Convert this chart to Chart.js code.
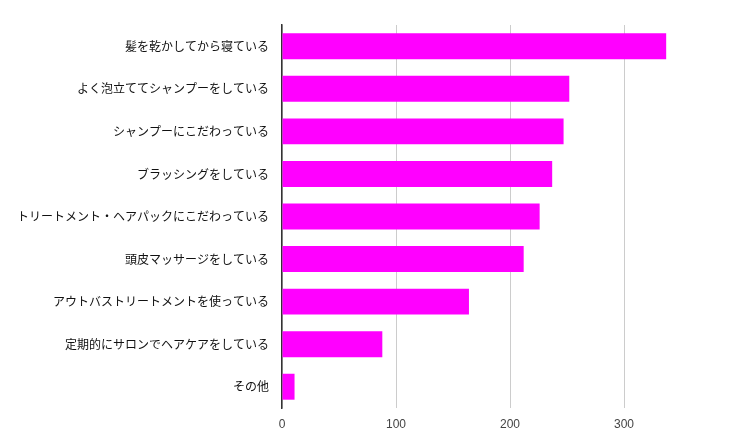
<!DOCTYPE html>
<html>
<head>
<meta charset="utf-8">
<script src="https://cdn.jsdelivr.net/npm/chart.js@4"></script>
<style>
  html, body { margin: 0; padding: 0; background: #fff; }
  #wrap { width: 738px; height: 447px; }
</style>
</head>
<body>
<div id="wrap"><canvas id="hairChart"></canvas></div>
<script>
const categories = [
    '髪を乾かしてから寝ている',
    'よく泡立ててシャンプーをしている',
    'シャンプーにこだわっている',
    'ブラッシングをしている',
    'トリートメント・ヘアパックにこだわっている',
    '頭皮マッサージをしている',
    'アウトバストリートメントを使っている',
    '定期的にサロンでヘアケアをしている',
    'その他'
];
const counts = [337, 252, 247, 237, 226, 212, 164, 88, 11];
const xTicks = [0, 100, 200, 300, 400];
const shownTicks = ['0', '100', '200', '300', ''];

const ctx = document.getElementById('hairChart').getContext('2d');

new Chart(ctx, {
    type: 'bar',
    data: {
        labels: categories,
        datasets: [{
            data: counts,
            backgroundColor: '#ff00ff',
            borderWidth: 0,
            barPercentage: 0.61,
            categoryPercentage: 1.0
        }]
    },
    options: {
        indexAxis: 'y',
        responsive: true,
        maintainAspectRatio: false,
        animation: false,
        layout: { padding: { top: 25, left: 0, right: 0, bottom: 0 } },
        scales: {
            x: {
                min: 0,
                max: 400,
                afterBuildTicks: scale => {
                    scale.ticks = xTicks.map(v => ({ value: v }));
                },
                afterFit: scale => {
                    scale.height = 39;
                    // let the last gridline sit at the canvas edge
                    scale.paddingRight = 0;
                    scale.paddingLeft = 0;
                },
                ticks: {
                    color: '#444',
                    padding: 9,
                    maxRotation: 0,
                    font: { family: 'Liberation Sans, Arial, sans-serif', size: 12 },
                    callback: (value, index) => shownTicks[index]
                },
                grid: {
                    color: '#cccccc',
                    lineWidth: 1,
                    drawTicks: false
                },
                border: { display: false }
            },
            y: {
                afterFit: scale => { scale.width = 282; },
                ticks: {
                    color: '#111',
                    padding: 13,
                    font: { family: '"Noto Sans CJK JP", sans-serif', size: 12 }
                },
                grid: { display: false, drawTicks: false },
                border: { display: true, color: '#333', width: 1.5 }
            }
        },
        plugins: {
            legend: { display: false },
            tooltip: { enabled: false }
        }
    }
});
</script>
</body>
</html>
